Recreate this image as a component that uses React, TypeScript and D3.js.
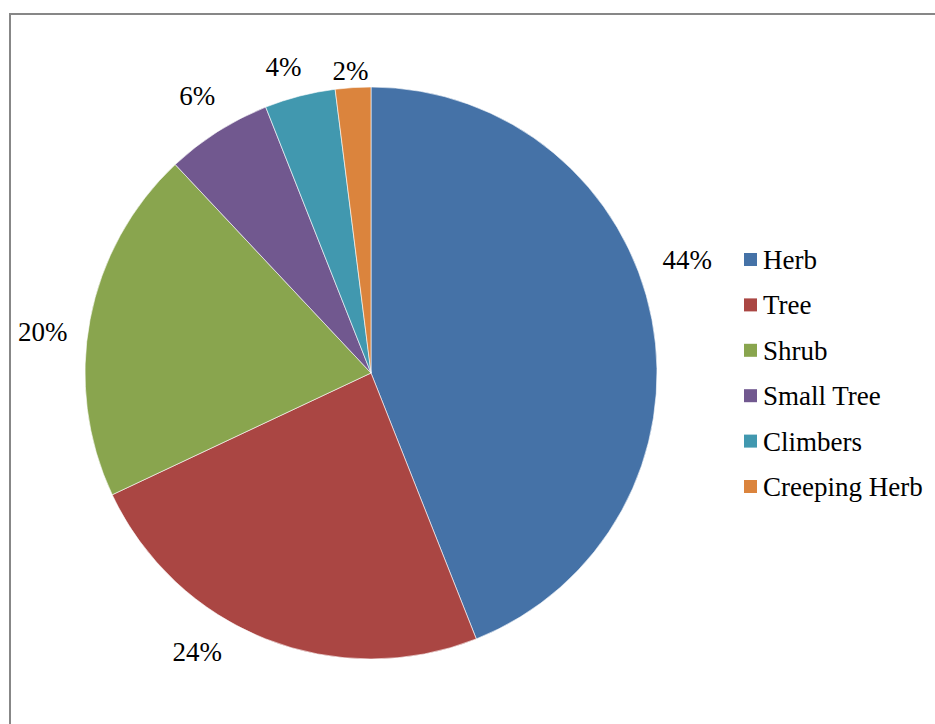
import React from "react";
import * as d3 from "d3";

const categories = ["Herb", "Tree", "Shrub", "Small Tree", "Climbers", "Creeping Herb"];
const values = [44, 24, 20, 6, 4, 2];
const colors = ["#4572A7", "#AA4643", "#89A54E", "#71588F", "#4198AF", "#DB843D"];
// label nudges (layout only)
const labelNudges: [number, number][] = [
  [-6, -52],
  [-53, -26],
  [-6, 20],
  [2, 0],
  [-6, 12],
  [0, 25],
];

const W = 935;
const H = 724;
const cx = 371;
const cy = 373;
const R = 286;

export default function App() {
  const total = d3.sum(values);
  const pie = d3
    .pie<number>()
    .sort(null)
    .value((d) => d)
    .startAngle(0)
    .endAngle(2 * Math.PI);
  const arcs = pie(values);
  const arc = d3.arc<d3.PieArcDatum<number>>().innerRadius(0).outerRadius(R);
  const labelArc = d3.arc<d3.PieArcDatum<number>>().innerRadius(328).outerRadius(328);
  const fmt = d3.format(".0%");

  const legendY = d3.scalePoint<string>().domain(categories).range([260, 487]);
  const ts = { fontFamily: "Times New Roman", fontSize: "27px" };

  return (
    <svg width={W} height={H} style={{ position: "absolute", left: 0, top: 0 }}>
      <rect x={0} y={0} width={W} height={H} fill="#fff" />
      <rect x={10} y={14} width={W + 20} height={H + 20} fill="none" stroke="#878787" strokeWidth={2} />
      <g transform={`translate(${cx},${cy})`}>
        {arcs.map((a, i) => (
          <path key={i} d={arc(a) || ""} fill={colors[i]} stroke="#ffffff" strokeWidth={0.6} />
        ))}
      </g>
      {arcs.map((a, i) => {
        const [x, y] = labelArc.centroid(a);
        return (
          <text
            key={"l" + i}
            x={cx + x + labelNudges[i][0]}
            y={cy + y + labelNudges[i][1] + 9}
            textAnchor="middle"
            style={ts}
          >
            {fmt(values[i] / total)}
          </text>
        );
      })}
      {categories.map((c, i) => (
        <rect key={"r" + c} x={744} y={(legendY(c) as number) - 7} width={13} height={13} fill={colors[i]} />
      ))}
      {categories.map((c) => (
        <text key={"t" + c} x={763} y={(legendY(c) as number) + 9} style={ts}>
          {c}
        </text>
      ))}
    </svg>
  );
}
